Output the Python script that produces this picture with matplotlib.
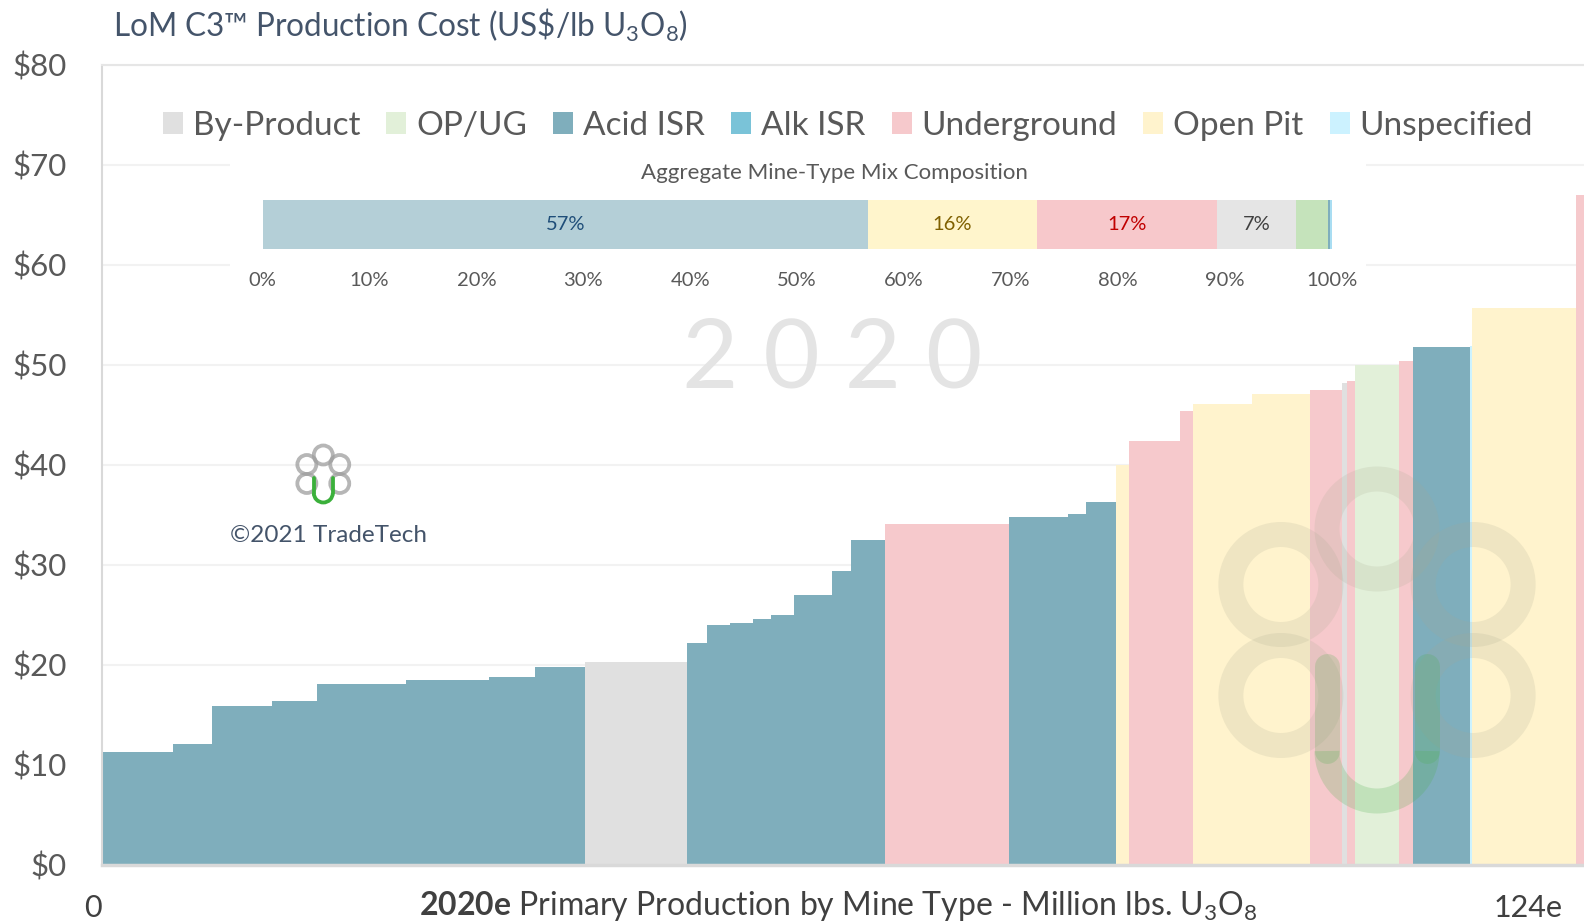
import numpy as np
import matplotlib
matplotlib.use("Agg")
import matplotlib.pyplot as plt
from matplotlib.patches import Patch, Rectangle, Circle, Arc
from matplotlib.transforms import ScaledTranslation

plt.rcParams['font.family'] = ['Lato', 'DejaVu Sans']
plt.rcParams['mathtext.fontset'] = 'custom'
plt.rcParams['mathtext.rm'] = 'Lato'
plt.rcParams['mathtext.bf'] = 'Lato:bold'
plt.rcParams['mathtext.it'] = 'Lato:italic'

# ---------------- data ----------------
mine_types = ["By-Product", "OP/UG", "Acid ISR", "Alk ISR", "Underground", "Open Pit", "Unspecified"]
type_colors = {"By-Product": "#E0E0E0", "OP/UG": "#E2F0D9", "Acid ISR": "#7FAEBC",
               "Alk ISR": "#7AC3D8", "Underground": "#F6C9CC", "Open Pit": "#FFF3CD",
               "Unspecified": "#CCF2FF"}

# production (million lbs U3O8) per operation, in cost order
production = [5.94, 3.26, 5.07, 3.71, 7.45, 6.94, 3.87, 4.18,
              8.58,
              1.64, 1.95, 1.91, 1.52, 1.92, 3.14, 1.64, 2.78,
              10.40,
              4.94, 1.49, 2.54,
              1.06,
              4.30, 1.03,
              4.94, 4.88,
              2.68, 0.45, 0.61, 3.68, 1.23, 4.71, 0.20, 8.73, 0.75]
# LoM C3 cost (US$/lb)
cost = [11.3, 12.1, 15.9, 16.4, 18.1, 18.5, 18.8, 19.8,
        20.3,
        22.2, 24.0, 24.2, 24.6, 25.0, 27.0, 29.4, 32.5,
        34.1,
        34.8, 35.1, 36.3,
        40.0,
        42.4, 45.4,
        46.1, 47.1,
        47.5, 48.2, 48.4, 50.0, 50.4, 51.8, 51.9, 55.7, 67.0]
mine_type = (["Acid ISR"] * 8 + ["By-Product"] + ["Acid ISR"] * 8 + ["Underground"]
             + ["Acid ISR"] * 3 + ["Open Pit"] + ["Underground"] * 2 + ["Open Pit"] * 2
             + ["Underground", "By-Product", "Underground", "OP/UG", "Underground",
                "Acid ISR", "Unspecified", "Open Pit", "Underground"])

yticks = [0, 10, 20, 30, 40, 50, 60, 70, 80]
x_max = 124

# aggregate mix
mix_types = ["Acid ISR", "Open Pit", "Underground", "By-Product", "OP/UG", "Alk ISR", "Unspecified"]
mix_share = [56.6, 15.8, 16.9, 7.4, 3.0, 0.15, 0.15]
mix_colors = ["#B4CFD7", "#FFF5CC", "#F7C8CB", "#E5E5E5", "#C5E3BB", "#7FAEBC", "#A9DDF2"]
mix_label_colors = ["#1F4E79", "#7F6000", "#C00000", "#404040", None, None, None]
mix_ticks = list(range(0, 101, 10))

# ---------------- figure ----------------
W, H = 1584, 924
fig = plt.figure(figsize=(W / 100, H / 100), dpi=100)
fig.patch.set_facecolor("white")

ax = fig.add_axes([101.7 / W, 59 / H, (W - 101.7) / W, 800 / H], zorder=0)
lefts = np.concatenate([[0], np.cumsum(production)[:-1]])
ax.bar(lefts, cost, width=production, align="edge",
       color=[type_colors[t] for t in mine_type], linewidth=0, zorder=2)
ax.set_xlim(0, x_max)
ax.set_ylim(0, 80)
ax.set_yticks(yticks)
ax.set_yticklabels([f"${v}" for v in yticks])
ax.yaxis.grid(True, color="#F2F2F2", linewidth=1.5, zorder=0)
ax.set_axisbelow(True)
ax.tick_params(axis="y", length=0, pad=25, labelsize=22.5, labelcolor="#595959")
ax.set_xticks([0, x_max])
ax.set_xticklabels(["0", "124e"])
ax.tick_params(axis="x", length=0, pad=21, labelsize=22, labelcolor="#404040")
xl = ax.get_xticklabels()
xl[0].set_ha("right")
xl[1].set_ha("right")
xl[1].set_transform(xl[1].get_transform() + ScaledTranslation(-0.21, 0, fig.dpi_scale_trans))
ax.spines["right"].set_visible(False)
ax.spines["left"].set_color("#D9D9D9")
ax.spines["left"].set_linewidth(1.5)
ax.spines["top"].set_color("#E6E6E6")
ax.spines["top"].set_linewidth(1.5)
ax.spines["bottom"].set_color("#D9D9D9")
ax.spines["bottom"].set_linewidth(2.5)

handles = [Patch(facecolor=type_colors[t], edgecolor="none", label=t) for t in mine_types]
leg = ax.legend(handles=handles, loc="center", bbox_to_anchor=(0.5035, 0.924), ncol=7,
                fontsize=24, frameon=True, framealpha=1, facecolor="white", edgecolor="none",
                handlelength=0.6, handleheight=0.6, handletextpad=0.3, columnspacing=0.78,
                borderpad=0.2, labelcolor="#595959")

# watermark year
ax.text(0.4925, 0.63, "2 0 2 0", transform=ax.transAxes, ha="center", va="center",
        fontsize=70, color="#E4E4E4", fontweight="normal", zorder=1)

# white box behind inset
fig.patches.append(Rectangle((230 / W, 1 - 298 / H), 1136 / W, 148 / H, transform=fig.transFigure,
                             facecolor="white", edgecolor="none", zorder=1))

# inset composition bar
ax_in = fig.add_axes([262.7 / W, 1 - 248.5 / H, (1331.5 - 262.7) / W, 48.5 / H], zorder=2)
left = 0
for share, col, lc in zip(mix_share, mix_colors, mix_label_colors):
    ax_in.barh(0, share, left=left, height=1, color=col, edgecolor="none")
    if lc is not None:
        ax_in.text(left + share / 2, 0, f"{share:.0f}%", ha="center", va="center",
                   fontsize=14.5, color=lc)
    left += share
ax_in.set_xlim(0, 100)
ax_in.set_ylim(-0.5, 0.5)
ax_in.set_yticks([])
ax_in.set_xticks(mix_ticks)
ax_in.set_xticklabels([f"{t}%" for t in mix_ticks])
ax_in.tick_params(axis="x", length=0, pad=17, labelsize=14.5, labelcolor="#595959")
for s in ax_in.spines.values():
    s.set_visible(False)
ax_in.text(0.5345, 1.56, "Aggregate Mine-Type Mix Composition", transform=ax_in.transAxes,
           ha="center", va="center", fontsize=16, color="#595959")

# titles
fig.text(113 / W, 1 - 36.5 / H, r"LoM C3™ Production Cost (US\$/lb U$\mathregular{_3}$O$\mathregular{_8}$)",
         ha="left", va="baseline", fontsize=22.7, color="#44546A")
fig.text(838.7 / W, 1 - 915 / H,
         r"$\mathbf{2020e}$ Primary Production by Mine Type - Million lbs. U$\mathregular{_3}$O$\mathregular{_8}$",
         ha="center", va="baseline", fontsize=23, color="#404040")
fig.text(328 / W, 1 - 535 / H, "©2021 TradeTech", ha="center", va="center",
         fontsize=17.5, color="#44546A")

# logos (overlay in pixel coordinates)
ov = fig.add_axes([0, 0, 1, 1], zorder=5)
ov.set_xlim(0, W)
ov.set_ylim(H, 0)
ov.axis("off")


def draw_logo(cx, cy, d, r, lw_px, ring_col, ring_alpha, u_col, u_alpha):
    lw = lw_px * 0.72
    for ang in [90, 150, 210, 30, 330]:
        a = np.deg2rad(ang)
        x = cx + d * np.cos(a)
        y = cy - d * np.sin(a)
        ov.add_patch(Circle((x, y), r, fill=False, edgecolor=ring_col, alpha=ring_alpha, linewidth=lw))
    uy = cy + d
    ov.add_patch(Arc((cx, uy), 2 * r, 2 * r, theta1=0, theta2=180, edgecolor=u_col,
                     alpha=u_alpha, linewidth=lw))
    top = cy + 0.23 * d
    for sx in (-r, r):
        ov.plot([cx + sx, cx + sx], [top, uy], color=u_col, alpha=u_alpha, linewidth=lw,
                solid_capstyle="round")


draw_logo(1377, 640, 111, 50, 25, "#A8A890", 0.18, "#4DB04D", 0.22)
draw_logo(323.3, 474, 19, 9.5, 3.8, "#9E9E9E", 0.75, "#3BB03B", 1.0)

fig.savefig("out.png", dpi=100, facecolor="white")
